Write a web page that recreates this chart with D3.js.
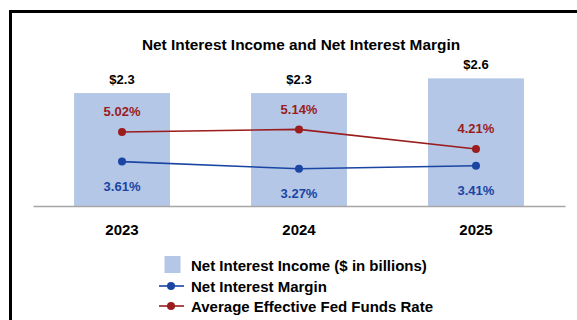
<!DOCTYPE html>
<html>
<head>
<meta charset="utf-8">
<script src="https://cdn.jsdelivr.net/npm/d3@7"></script>
<style>
  body{margin:0;background:#fff;}
  text{font-family:"Liberation Sans",Arial,sans-serif;font-weight:bold;}
</style>
</head>
<body>
<div id="chart"></div>
<script>
// data
const years = ['2023','2024','2025'];
const nii = [2.3, 2.3, 2.6];            // $ billions
const nim = [3.61, 3.27, 3.41];         // %
const fedFunds = [5.02, 5.14, 4.21];    // %
const legendLabels = ['Net Interest Income ($ in billions)','Net Interest Margin','Average Effective Fed Funds Rate'];

const W = 577, H = 320;
const barColor = '#b4c7e7', blue = '#1a45a3', red = '#9a1c1c';

const svg = d3.select('#chart').append('svg').attr('width',W).attr('height',H);

// frame (right/bottom edges run off the picture)
svg.append('rect').attr('x',10.5).attr('y',11.5).attr('width',W+20).attr('height',H+20)
  .attr('fill','#fff').attr('stroke','#000').attr('stroke-width',3);

svg.append('text').attr('x',301).attr('y',50).attr('text-anchor','middle')
  .attr('font-size',15.4).attr('fill','#000').text('Net Interest Income and Net Interest Margin');

const x = d3.scaleBand().domain(years).range([33,565]).paddingInner(0.458).paddingOuter(0.232);
const y = d3.scaleLinear().domain([0,3]).range([206,58.7]);
const y2 = d3.scaleLinear().domain([1.5,8.5]).range([206,58.7]);
const cx = d => x(d)+x.bandwidth()/2;

// bars
svg.selectAll('rect.bar').data(years).enter().append('rect').attr('class','bar')
  .attr('x',d=>x(d)).attr('width',x.bandwidth())
  .attr('y',(d,i)=>y(nii[i])).attr('height',(d,i)=>y(0)-y(nii[i]))
  .attr('fill',barColor);

svg.selectAll('text.bv').data(years).enter().append('text').attr('class','bv')
  .attr('x',cx).attr('y',(d,i)=>y(nii[i])-9.5).attr('text-anchor','middle')
  .attr('font-size',13).attr('fill','#000').text((d,i)=>'$'+nii[i].toFixed(1));

// baseline + year labels
const xAxis = svg.append('g').attr('transform','translate(0,206)')
  .call(d3.axisBottom(x).tickSize(0).tickPadding(0));
xAxis.select('.domain').attr('stroke','#a6a6a6').attr('stroke-width',1.5);
xAxis.selectAll('text').attr('dy',0).attr('y',28.5).attr('font-size',15)
  .attr('fill','#000').attr('font-family','"Liberation Sans",Arial,sans-serif').attr('font-weight','bold');

// lines
function series(vals,color,labelDy){
  const pts = years.map((d,i)=>[cx(d),y2(vals[i])]);
  svg.append('path').attr('d',d3.line()(pts)).attr('fill','none')
    .attr('stroke',color).attr('stroke-width',1.6);
  svg.selectAll(null).data(pts).enter().append('circle')
    .attr('cx',p=>p[0]).attr('cy',p=>p[1]).attr('r',4).attr('fill',color);
  svg.selectAll(null).data(pts).enter().append('text')
    .attr('x',p=>p[0]).attr('y',p=>p[1]+labelDy).attr('text-anchor','middle')
    .attr('font-size',13).attr('fill',color).text((p,i)=>vals[i].toFixed(2)+'%');
}
series(fedFunds, red, -15.5);
series(nim, blue, 29.5);

// legend
const lg = svg.append('g');
const rowY = [265, 286, 306];
lg.append('rect').attr('x',164.5).attr('y',rowY[0]-9).attr('width',16).attr('height',17).attr('fill',barColor);
[[blue,rowY[1]],[red,rowY[2]]].forEach(([c,yy])=>{
  lg.append('line').attr('x1',159).attr('x2',184).attr('y1',yy).attr('y2',yy).attr('stroke',c).attr('stroke-width',1.6);
  lg.append('circle').attr('cx',171).attr('cy',yy).attr('r',4).attr('fill',c);
});
lg.selectAll('text').data(legendLabels).enter().append('text')
  .attr('x',191).attr('y',(d,i)=>rowY[i]+5.5).attr('font-size',15).attr('fill','#000').text(d=>d);
</script>
</body>
</html>
